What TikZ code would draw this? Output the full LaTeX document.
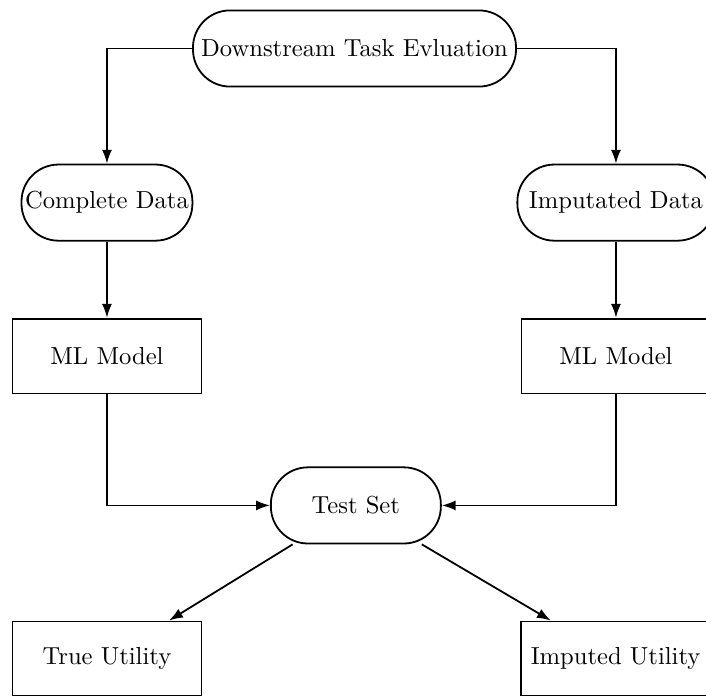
\documentclass[tikz,border=0pt]{standalone}
\usepackage{tikz}
\usetikzlibrary{shapes,arrows.meta,positioning}

\begin{document}
\begin{tikzpicture}[
    node distance=1.12cm,
    font=\fontsize{10.3pt}{12pt}\selectfont,
    term/.style={draw, line width=0.75pt, rounded corners=15.5pt, minimum width=2.5cm, minimum height=1.12cm, inner xsep=1.5pt, text centered},
    box/.style={draw, line width=0.75pt, minimum width=2.78cm, minimum height=1.1cm, text centered},
    arrow/.style={-{Latex[length=5.8pt,width=4.2pt]}, line width=0.75pt}
]
    \node[term, minimum width=4.75cm] (eval) {Downstream Task Evluation};
    \useasboundingbox (-5.213,0.713) rectangle (5.169,-9.521);
    \node[term, below=of eval, xshift=-3.64cm] (cdata) {Complete Data};
    \node[term, below=of eval, xshift=3.845cm, minimum width=2.9cm] (idata) {Imputated Data};
    \node[box, below=of cdata] (mlleft) {ML Model};
    \node[box, below=of idata] (mlright) {ML Model};
    \node[term, below=1.06cm of mlleft, xshift=3.66cm] (test) {Test Set};
    \node[box, below=of test, xshift=-3.66cm] (trueu) {True Utility};
    \node[box, below=of test, xshift=3.82cm] (impu) {Imputed Utility};

    \draw[arrow] (eval) -| (cdata);
    \draw[arrow] (eval) -| (idata);
    \draw[arrow] (cdata) -- (mlleft);
    \draw[arrow] (idata) -- (mlright);
    \draw[arrow] (mlleft) |- (test);
    \draw[arrow] (mlright) |- (test);
    \draw[arrow] (test) -- (trueu);
    \draw[arrow] (test) -- (impu);
\end{tikzpicture}
\end{document}
